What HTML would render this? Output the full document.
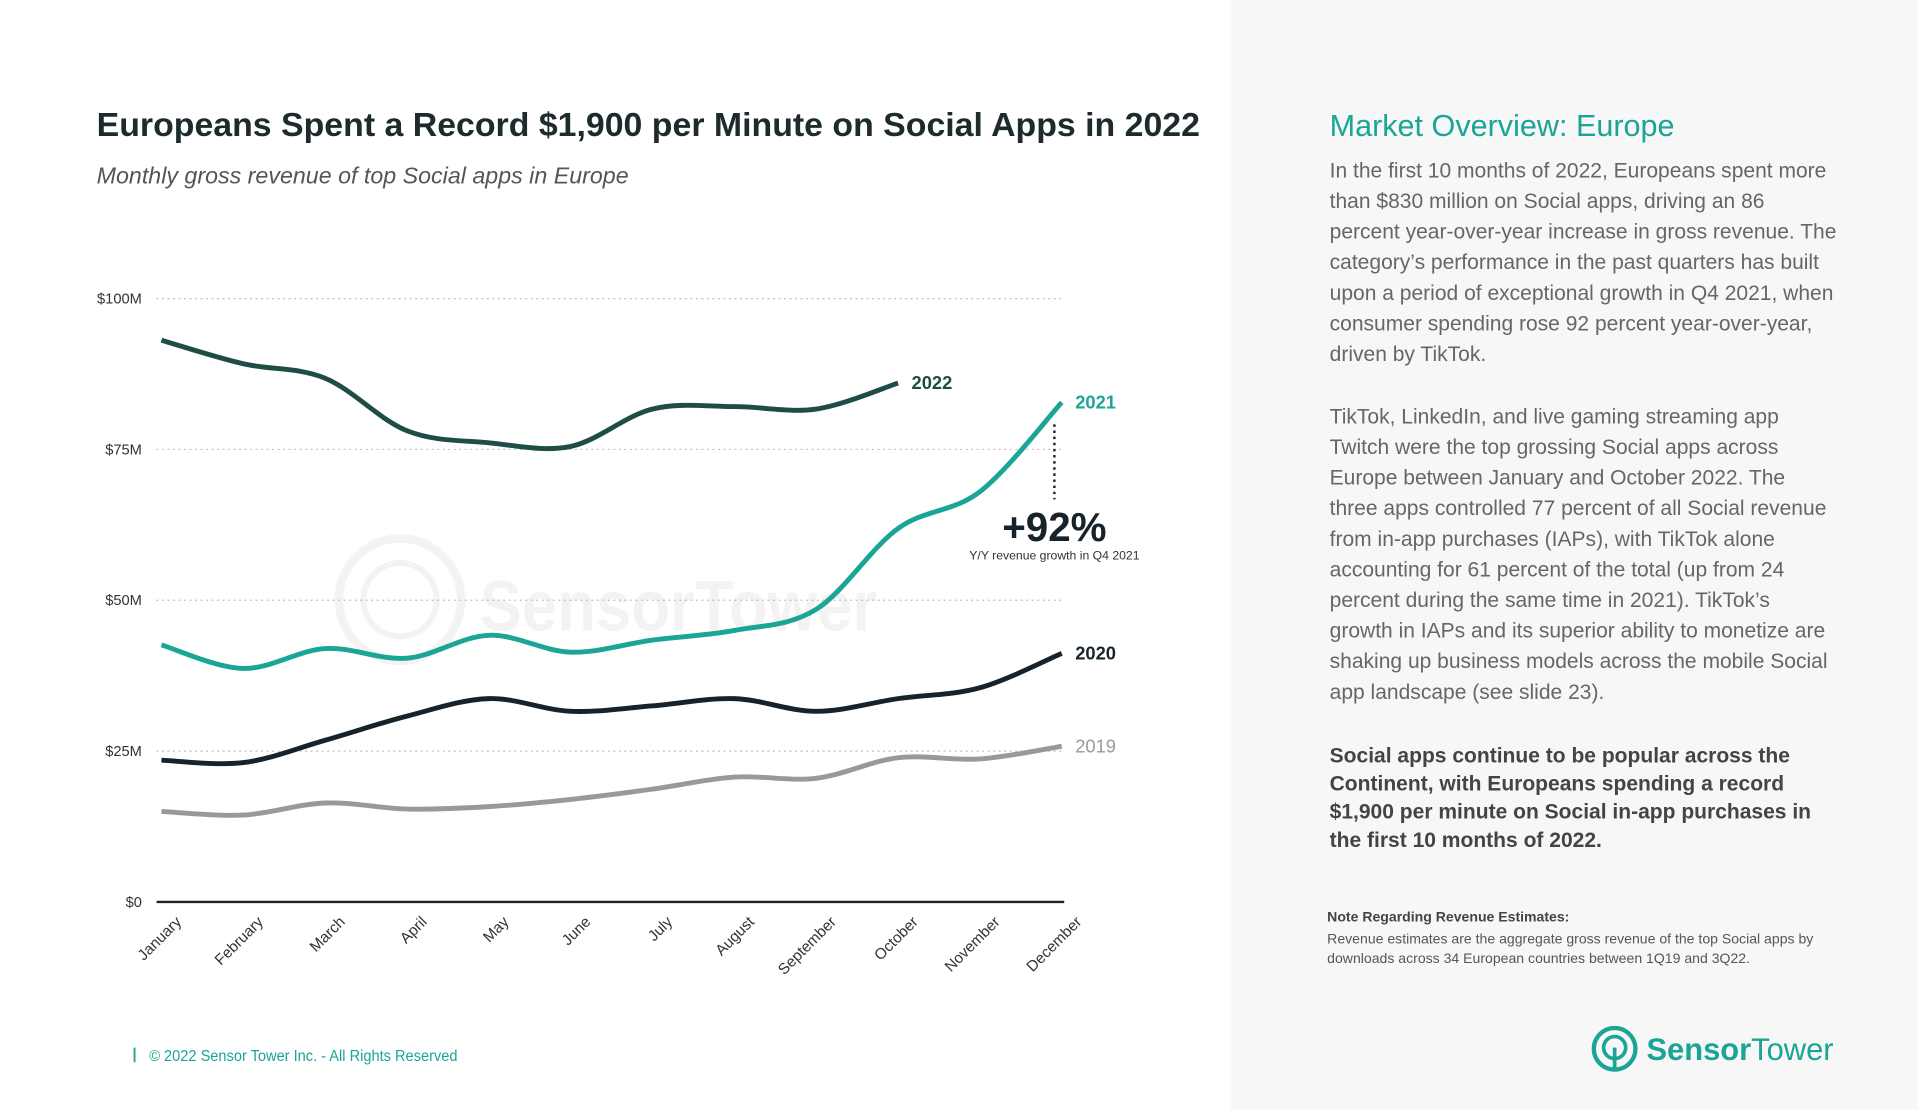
<!DOCTYPE html>
<html><head><meta charset="utf-8"><style>
html,body{margin:0;padding:0;background:#fff;}
svg{display:block;font-family:"Liberation Sans",sans-serif;}
</style></head><body>
<svg width="1918" height="1110" viewBox="0 0 1568 907" preserveAspectRatio="none">
<rect x="0" y="0" width="1006" height="907" fill="#fff"/>
<rect x="1006" y="0" width="562" height="907" fill="#f7f7f7"/>
<text x="79" y="111" font-size="27" font-weight="bold" fill="#1d2b2c" textLength="902" lengthAdjust="spacingAndGlyphs">Europeans Spent a Record $1,900 per Minute on Social Apps in 2022</text>
<text x="79" y="150" font-size="19" font-style="italic" fill="#555">Monthly gross revenue of top Social apps in Europe</text>
<g id="chart"></g>
<text x="1087" y="111" font-size="25" fill="#1aa596">Market Overview: Europe</text>
<g font-size="17.2" fill="#666">
<text x="1087" y="145">In the first 10 months of 2022, Europeans spent more</text>
<text x="1087" y="170">than $830 million on Social apps, driving an 86</text>
<text x="1087" y="195">percent year-over-year increase in gross revenue. The</text>
<text x="1087" y="220">category’s performance in the past quarters has built</text>
<text x="1087" y="245">upon a period of exceptional growth in Q4 2021, when</text>
<text x="1087" y="270">consumer spending rose 92 percent year-over-year,</text>
<text x="1087" y="295">driven by TikTok.</text>
<text x="1087" y="346">TikTok, LinkedIn, and live gaming streaming app</text>
<text x="1087" y="371">Twitch were the top grossing Social apps across</text>
<text x="1087" y="396">Europe between January and October 2022. The</text>
<text x="1087" y="421">three apps controlled 77 percent of all Social revenue</text>
<text x="1087" y="446">from in-app purchases (IAPs), with TikTok alone</text>
<text x="1087" y="471">accounting for 61 percent of the total (up from 24</text>
<text x="1087" y="496">percent during the same time in 2021). TikTok’s</text>
<text x="1087" y="521">growth in IAPs and its superior ability to monetize are</text>
<text x="1087" y="546">shaking up business models across the mobile Social</text>
<text x="1087" y="571">app landscape (see slide 23).</text>
</g>
<g font-size="17.2" font-weight="bold" fill="#444">
<text x="1087" y="623">Social apps continue to be popular across the</text>
<text x="1087" y="646">Continent, with Europeans spending a record</text>
<text x="1087" y="669">$1,900 per minute on Social in-app purchases in</text>
<text x="1087" y="692">the first 10 months of 2022.</text>
</g>
<text x="1085" y="753" font-size="11.5" font-weight="bold" fill="#444">Note Regarding Revenue Estimates:</text>
<text x="1085" y="771" font-size="11.5" fill="#555">Revenue estimates are the aggregate gross revenue of the top Social apps by</text>
<text x="1085" y="787" font-size="11.5" fill="#555">downloads across 34 European countries between 1Q19 and 3Q22.</text>
<g>
<circle cx="1320" cy="857" r="17" fill="none" stroke="#1aa596" stroke-width="3.5"/>
<circle cx="1320" cy="856" r="9" fill="none" stroke="#1aa596" stroke-width="3"/>
<line x1="1320" y1="856" x2="1320" y2="874" stroke="#1aa596" stroke-width="3"/>
<text x="1346" y="866" font-size="26" font-weight="bold" fill="#1aa596" textLength="153" lengthAdjust="spacingAndGlyphs">Sensor<tspan font-weight="normal">Tower</tspan></text>
</g>
<line x1="110" y1="856" x2="110" y2="868" stroke="#1aa596" stroke-width="1.5"/>
<text x="122" y="867" font-size="12.5" fill="#1aa596" textLength="252" lengthAdjust="spacingAndGlyphs">© 2022 Sensor Tower Inc. - All Rights Reserved</text>
</svg>
<script>
const months=["January","February","March","April","May","June","July","August","September","October","November","December"];
const yTicks=[0,25,50,75,100];
const yTickLabels=["$0","$25M","$50M","$75M","$100M"];
const s2022=[93.1,89.2,86.8,78.1,76.1,75.5,81.7,82.1,81.7,86.0];
const s2021=[42.6,38.7,42.0,40.4,44.2,41.4,43.4,45.0,48.5,61.9,68.0,82.8];
const s2020=[23.5,23.1,26.8,30.8,33.7,31.6,32.5,33.7,31.6,33.7,35.5,41.2];
const s2019=[15.0,14.4,16.4,15.4,15.8,17.0,18.7,20.7,20.5,23.9,23.7,25.8];
const NS="http://www.w3.org/2000/svg";
const g=document.getElementById('chart');
const X0=132,X1=868,Y0=737,Y100=244;
const xs=i=>X0+(X1-X0)*i/(months.length-1);
const ys=v=>Y0-(Y0-Y100)*v/100;
function mk(t,a,p){const e=document.createElementNS(NS,t);for(const k in a)e.setAttribute(k,a[k]);(p||g).appendChild(e);return e;}
const wm=mk('g',{opacity:0.045});


mk('circle',{cx:327,cy:490,r:50,fill:'none',stroke:'#000','stroke-width':7},wm);
mk('circle',{cx:327,cy:490,r:30,fill:'none',stroke:'#000','stroke-width':5},wm);
const wt=mk('text',{x:392,y:515,'font-size':58,'font-weight':'bold',fill:'#000',textLength:325,lengthAdjust:'spacingAndGlyphs'},wm);wt.textContent='SensorTower';
yTicks.forEach((t,i)=>{
  const y=ys(t);
  const l=mk('line',{x1:128,x2:870,y1:y,y2:y,stroke:t===0?'#222':'#bbb','stroke-width':t===0?2:1,'stroke-dasharray':t===0?'':'1.5 3'});
  
  
  const tx=mk('text',{x:116,y:y+4,'text-anchor':'end','font-size':12,fill:'#333'});
  tx.textContent=yTickLabels[i];
  
  
});
months.forEach((m,i)=>{
  const x=xs(i)+17,y=754;
  const tx=mk('text',{x:x,y:y,'text-anchor':'end','font-size':12.5,fill:'#333',transform:`rotate(-45 ${x} ${y})`});
  tx.textContent=m;
  
  
});
function path(vals){
  const p=vals.map((v,i)=>[xs(i),ys(v)]);
  let d=`M${p[0][0]},${p[0][1]}`;
  for(let i=0;i<p.length-1;i++){
    const p0=p[Math.max(0,i-1)],p1=p[i],p2=p[i+1],p3=p[Math.min(p.length-1,i+2)];
    const c1=[p1[0]+(p2[0]-p0[0])/6,p1[1]+(p2[1]-p0[1])/6];
    const c2=[p2[0]-(p3[0]-p1[0])/6,p2[1]-(p3[1]-p1[1])/6];
    d+=` C${c1[0]},${c1[1]} ${c2[0]},${c2[1]} ${p2[0]},${p2[1]}`;
  }
  return d;
}
const series=[[s2019,'#999','2019','series-2019'],[s2020,'#16232a','2020','series-2020'],[s2021,'#1aa596','2021','series-2021'],[s2022,'#1d4d45','2022','series-2022']];
series.forEach(([vals,c,lab,name])=>{
  const e=mk('path',{d:path(vals),fill:'none',stroke:c,'stroke-width':4,'stroke-linecap':'butt'});
  
  
  const n=vals.length-1;
  const t=mk('text',{x:xs(n)+11,y:ys(vals[n])+5,'font-size':15,'font-weight':lab==='2019'?'normal':'bold',fill:c});
  t.textContent=lab;
  
  
});
const dl=mk('line',{x1:862,x2:862,y1:ys(s2021[11])+18,y2:408,stroke:'#222','stroke-width':2,'stroke-dasharray':'2 3'});


const ga=mk('text',{x:862,y:442,'text-anchor':'middle','font-size':33,'font-weight':'bold',fill:'#16232a'});
ga.textContent='+92%';


const gs=mk('text',{x:862,y:457,'text-anchor':'middle','font-size':10,fill:'#333'});
gs.textContent='Y/Y revenue growth in Q4 2021';


</script>
</body></html>
